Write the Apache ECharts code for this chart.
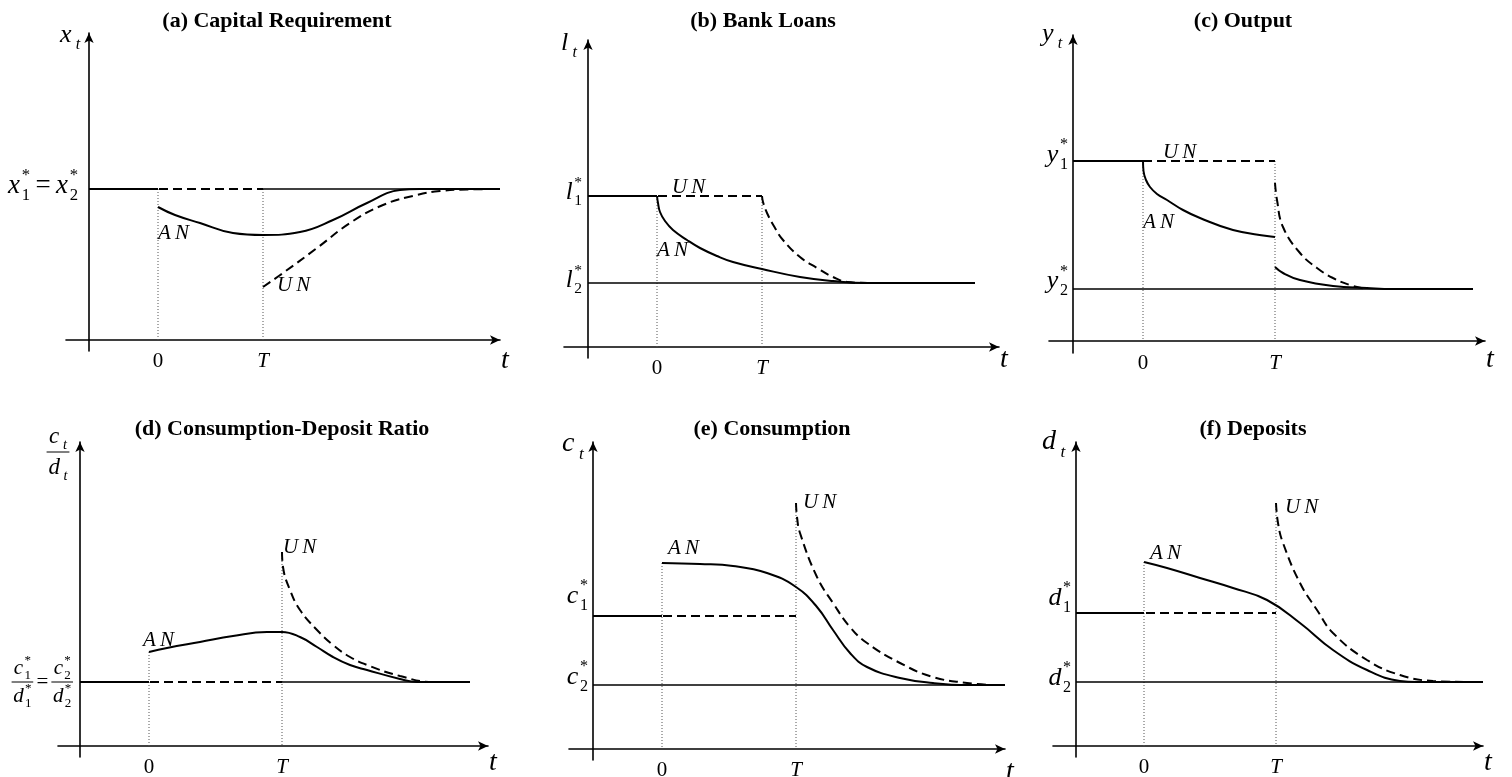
<!DOCTYPE html>
<html><head><meta charset="utf-8">
<script src="https://cdn.jsdelivr.net/npm/echarts@6/dist/echarts.min.js"></script>
<style>html,body{margin:0;padding:0;background:#fff}#c{width:1512px;height:777px}</style>
</head><body><div id="c"></div>
<script>
// ---------------- data (schematic units) ----------------
const tickText = ['0', 'T'];
const titles = ['(a) Capital Requirement', '(b) Bank Loans', '(c) Output',
                '(d) Consumption-Deposit Ratio', '(e) Consumption', '(f) Deposits'];
const curveNames = ['AN', 'UN'];

// (a) Capital Requirement
const ticksA = [6.9, 17.4];
const levelsA = [15.1, 15.1];
const anA = [[6.9,13.3],[8.6,12.5],[11.1,11.7],[14.4,10.7],[17.4,10.5],[21.1,10.8],[24.4,12.0],[27.8,13.7],[31.1,15.0],[33.1,15.1],[41.1,15.1]];
const unA = [[17.4,5.3],[19.4,6.7],[22.8,9.2],[26.1,11.7],[29.4,13.5],[32.8,14.5],[35.1,14.9],[37.8,15.05],[41.1,15.1]];

// (b) Bank Loans
const ticksB = [6.9, 17.4];
const levelsB = [15.1, 6.4];
const anB = [[6.9,15.1],[7.0,14.4],[7.2,13.5],[7.7,12.6],[8.5,11.7],[9.9,10.7],[11.2,9.9],[12.9,9.1],[14.5,8.5],[17.4,7.8],[21.2,7.0],[24.5,6.6],[27.9,6.4],[38.7,6.4]];
const unB = [[17.4,15.1],[17.5,14.5],[17.9,13.4],[18.7,11.9],[19.5,10.7],[21.2,9.0],[22.9,7.9],[24.5,7.0],[25.9,6.5],[28.0,6.4]];

// (c) Output
const ticksC = [7.0, 20.2];
const levelsC = [18.0, 5.2];
const anC = [[7.0,18.0],[7.05,17.0],[7.3,16.1],[7.7,15.4],[8.4,14.7],[9.4,14.1],[11.0,13.1],[12.7,12.3],[16.0,11.1],[19.4,10.5],[20.2,10.4]];
const anC2 = [[20.2,7.4],[21.0,6.8],[22.7,6.1],[26.0,5.5],[29.4,5.3],[32.0,5.2],[40.0,5.2]];
const unC = [[20.2,15.8],[20.4,14.1],[21.0,11.4],[22.7,8.8],[24.4,7.3],[26.0,6.3],[27.7,5.6],[29.4,5.2]];

// (d) Consumption-Deposit Ratio
const ticksD = [6.9, 20.2];
const levelsD = [6.4, 6.4];
const anD = [[6.9,9.4],[8.7,9.8],[12.0,10.4],[15.3,11.0],[18.7,11.4],[20.2,11.4],[22.0,10.9],[23.7,9.9],[25.3,8.9],[27.0,8.1],[28.7,7.6],[32.0,6.7],[33.7,6.4],[39.0,6.4]];
const unD = [[20.2,19.4],[20.3,17.9],[21.0,15.6],[22.0,13.6],[23.7,11.6],[25.3,10.1],[27.0,8.9],[28.7,8.1],[32.0,7.0],[35.3,6.4],[37.0,6.4]];

// (e) Consumption
const ticksE = [6.9, 20.3];
const levelsE = [13.3, 6.4];
const anE = [[6.9,18.6],[10.7,18.5],[14.0,18.3],[17.4,17.6],[20.3,16.2],[22.4,14.2],[24.0,11.9],[25.7,9.6],[27.4,8.2],[30.7,7.1],[34.0,6.6],[37.4,6.4],[41.2,6.4]];
const unE = [[20.3,24.6],[20.4,23.2],[20.7,21.6],[22.4,17.2],[24.0,14.6],[25.7,12.2],[27.4,10.6],[30.7,8.6],[34.0,7.2],[37.4,6.6],[39.7,6.4]];

// (f) Deposits
const ticksF = [6.8, 20.0];
const levelsF = [13.3, 6.4];
const anF = [[6.8,18.4],[9.1,17.8],[12.4,16.8],[15.7,15.8],[19.1,14.6],[22.4,12.3],[25.7,9.6],[29.1,7.6],[32.4,6.5],[34.1,6.4],[40.7,6.4]];
const unF = [[20.0,24.3],[20.2,22.3],[20.7,20.3],[22.4,16.3],[24.1,13.6],[25.7,11.3],[29.1,8.6],[32.4,7.1],[35.7,6.5],[39.1,6.4]];

// where the thin steady-state line starts (time value)
const refStart = [ticksA[1], 0, 0, ticksD[1], 0, 0];

// ---------------- layout ----------------
const SERIF = '"Liberation Serif", "Times New Roman", serif';
const gridBoxes = [[66,33,434,318],[564,40,435,318],[1049,35,436,318],[58,442,430,315],[569,442,436,318],[1053,442,430,315]];
const xRanges = [[-2.3,41.1],[-2.4,41.1],[-2.4,41.2],[-2.2,40.8],[-2.4,41.2],[-2.3,40.7]];
const yRanges = [[-1.1,30.7],[-1.1,30.7],[-1.2,30.6],[-1.1,30.4],[-1.1,30.7],[-1.1,30.4]];
const titleCenters = [[277,21],[763,21],[1243,21],[282,429],[772,429],[1253,429]];
const tNameDy = [21,13,19,17,23,17];
// label anchors (data coords of left-middle of the AN / UN text)
const anLabelAt = [[6.9,10.7],[6.9,9.7],[7.0,11.9],[6.3,10.6],[7.5,20.1],[7.4,19.3]];
const unLabelAt = [[18.8,5.5],[8.4,16.0],[9.0,18.9],[20.3,19.9],[21.0,24.7],[20.9,23.9]];

const ticks = [ticksA, ticksB, ticksC, ticksD, ticksE, ticksF];
const levels = [levelsA, levelsB, levelsC, levelsD, levelsE, levelsF];
const anCurves = [[anA],[anB],[anC, anC2],[anD],[anE],[anF]];
const unCurves = [unA, unB, unC, unD, unE, unF];

const AN_STYLE = {color:'#000', width:2};
const UN_STYLE = {color:'#000', width:2, type:[9,5]};
const REF_STYLE = {color:'#000', width:1.3};
const DOT_STYLE = {color:'#555', width:1, type:[1,2]};
const AXIS_LINE = {onZero:true, symbol:['none','arrow'], symbolSize:[7,10], lineStyle:{color:'#000', width:1.6}};

const grid = [], xAxis = [], yAxis = [], series = [];
function addLine(i, data, style, smooth, z) {
  series.push({type:'line', xAxisIndex:i, yAxisIndex:i, data, symbol:'none', silent:true,
    smooth: smooth ? 0.45 : false,
    lineStyle: style, z: z, clip:false, emphasis:{disabled:true}});
}
for (let i = 0; i < 6; i++) {
  const [l, t, w, h] = gridBoxes[i];
  grid.push({left:l, top:t, width:w, height:h, containLabel:false, outerBoundsMode:'none'});
  const tk = ticks[i];
  xAxis.push({type:'value', gridIndex:i, min:xRanges[i][0], max:xRanges[i][1],
    axisLine: AXIS_LINE, axisTick:{show:false}, splitLine:{show:false},
    axisLabel:{show:true, customValues: tk, margin:0, color:'#000', fontFamily:SERIF, fontSize:21,
      formatter: v => Math.abs(v - tk[0]) < 1e-6 ? tickText[0] : '{i|' + tickText[1] + '}',
      rich:{i:{fontStyle:'italic', fontFamily:SERIF, fontSize:21, color:'#000'}}}});
  yAxis.push({type:'value', gridIndex:i, min:yRanges[i][0], max:yRanges[i][1],
    axisLine: AXIS_LINE, axisTick:{show:false}, axisLabel:{show:false}, splitLine:{show:false}});

  const [l1, l2] = levels[i];
  const ans = anCurves[i], un = unCurves[i];
  const lastAn = ans[ans.length-1];
  const endX = lastAn[lastAn.length-1][0];
  // dotted guides
  const top0 = Math.max(l1, ans[0][0][1]);
  const topT = Math.max(l1, un[0][1]);
  addLine(i, [[tk[0], top0],[tk[0], 0]], DOT_STYLE, false, 1);
  addLine(i, [[tk[1], topT],[tk[1], 0]], DOT_STYLE, false, 1);
  // steady-state thin line
  addLine(i, [[refStart[i], l2],[endX, l2]], REF_STYLE, false, 2);
  // UN (dashed)
  addLine(i, [[0, l1],[tk[1], l1]], UN_STYLE, false, 3);
  addLine(i, un, UN_STYLE, true, 3);
  // AN (solid)
  addLine(i, [[0, l1],[tk[0], l1]], AN_STYLE, false, 4);
  ans.forEach(c => addLine(i, c, AN_STYLE, true, 4));
}

const chart = echarts.init(document.getElementById('c'));
chart.setOption({animation:false, backgroundColor:'#fff', grid, xAxis, yAxis, series});

// ---------------- math-style text labels ----------------
const ctx = document.createElement('canvas').getContext('2d');
function tw(text, size, italic) { ctx.font = (italic ? 'italic ' : '') + size + 'px "Liberation Serif"'; return ctx.measureText(text).width; }
function T(text, x, y, size, italic, align, weight) {
  return {type:'text', x, y, silent:true, style:{text, fontSize:size, fontFamily:SERIF,
    fontStyle: italic ? 'italic' : 'normal', fontWeight: weight || 'normal', fill:'#000',
    align: align || 'left', verticalAlign:'middle'}};
}
function mrow(items, size) {
  let x = 0; const els = []; const s = size * 0.62;
  items.forEach(it => {
    if (it.op) { x += size*0.2; els.push(T(it.op, x, 0, size, false)); x += tw(it.op, size, false) + size*0.2; return; }
    els.push(T(it.b, x, 0, size, true));
    x += tw(it.b, size, true) + size*0.06;
    let w = 0;
    if (it.sup) { els.push(T(it.sup, x, -0.38*size, s, false)); w = Math.max(w, tw(it.sup, s, false)); }
    if (it.sub) { const si = !!it.subI; const off = si ? size*0.1 : 0;
      els.push(T(it.sub, x + off, 0.36*size, s, si)); w = Math.max(w, tw(it.sub, s, si) + off); }
    x += w;
  });
  return {els, width:x};
}
function grp(row, x, y) { return {type:'group', x, y, silent:true, children: row.els}; }
function frac(num, den, size) {
  const pad = size*0.08; const w = Math.max(num.width, den.width) + 2*pad;
  return {width:w, els:[grp(num, (w-num.width)/2, -0.66*size),
    {type:'line', silent:true, shape:{x1:0,y1:0,x2:w,y2:0}, style:{stroke:'#000', lineWidth:1}},
    grp(den, (w-den.width)/2, 0.68*size)]};
}
function concat(parts, size) {
  let x = 0; const els = [];
  parts.forEach(p => {
    if (p.op) { x += size*0.15; els.push(T(p.op, x, 0, size, false)); x += tw(p.op, size, false) + size*0.15; return; }
    els.push(grp(p, x, 0)); x += p.width;
  });
  return {els, width:x};
}
const star = (b, n) => ({b, sub:n, sup:'*'});
const tsub = b => ({b, sub:'t', subI:true});

// name labels (top of y axis): [row, dx from axis, dy from arrow tip, anchor]
const nameLabels = [
  [mrow([tsub('x')], 26), -29, 7, 'left'],
  [mrow([tsub('l')], 26), -27, 8, 'left'],
  [mrow([tsub('y')], 26), -31, 4.5, 'left'],
  [frac(mrow([tsub('c')], 23), mrow([tsub('d')], 23), 23), -22, 15, 'center'],
  [mrow([tsub('c')], 28), -31, 7, 'left'],
  [mrow([tsub('d')], 28), -34, 5, 'left']
];
// level labels: [row, level index, dx (right edge), dy from level]
const eqSize = 21;
const levelLabels = [
  [[mrow([star('x','1'), {op:'='}, star('x','2')], 27), 0, -11, -3]],
  [[mrow([star('l','1')], 25), 0, -6, -4], [mrow([star('l','2')], 25), 1, -6, -3]],
  [[mrow([star('y','1')], 26), 0, -5, -6], [mrow([star('y','2')], 26), 1, -5, -7.5]],
  [[concat([frac(mrow([star('c','1')], eqSize), mrow([star('d','1')], eqSize), eqSize), {op:'='},
            frac(mrow([star('c','2')], eqSize), mrow([star('d','2')], eqSize), eqSize)], eqSize), 0, -7, 0]],
  [[mrow([star('c','1')], 26), 0, -5, -20], [mrow([star('c','2')], 26), 1, -5, -8]],
  [[mrow([star('d','1')], 26), 0, -5, -15], [mrow([star('d','2')], 26), 1, -5, -4]]
];

const graphic = [];
for (let i = 0; i < 6; i++) {
  const f = {gridIndex:i};
  const o = chart.convertToPixel(f, [0, 0]);
  const ax = o[0], ay = o[1];
  const tipY = chart.convertToPixel(f, [0, yRanges[i][1]])[1] - 5;
  const tipX = chart.convertToPixel(f, [xRanges[i][1], 0])[0] + 5;
  graphic.push(T(titles[i], titleCenters[i][0], titleCenters[i][1], 22, false, 'center', 'bold'));
  graphic.push(T('t', tipX, ay + tNameDy[i], 28, true, 'center'));
  const [row, dx, dy, anchor] = nameLabels[i];
  const lx = anchor === 'center' ? ax + dx - row.width/2 : ax + dx;
  graphic.push(grp(row, lx, tipY + dy));
  levelLabels[i].forEach(([r, li, ddx, ddy]) => {
    const py = chart.convertToPixel(f, [0, levels[i][li]])[1];
    graphic.push(grp(r, ax + ddx - r.width, py + ddy));
  });
  const pa = chart.convertToPixel(f, anLabelAt[i]);
  const pu = chart.convertToPixel(f, unLabelAt[i]);
  graphic.push(T(curveNames[0].split('').join('\u2009'), pa[0], pa[1], 21, true));
  graphic.push(T(curveNames[1].split('').join('\u2009'), pu[0], pu[1], 21, true));
}
chart.setOption({graphic});
</script>
</body></html>
